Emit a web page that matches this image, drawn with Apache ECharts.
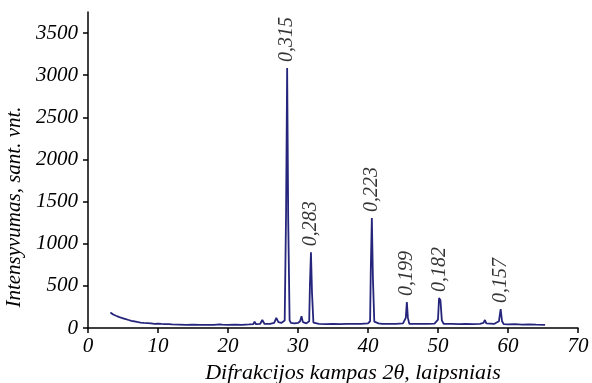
<!DOCTYPE html>
<html><head><meta charset="utf-8">
<script src="https://cdn.jsdelivr.net/npm/echarts@6/dist/echarts.min.js"></script>
<style>html,body{margin:0;padding:0;background:#fff}#c{width:592px;height:383px}</style>
</head><body><div id="c"></div>
<script>
// diffraction angle 2θ (degrees)
const angles = [3.2,3.4,3.6,3.8,4.0,4.3,4.6,5.0,5.4,5.8,6.2,6.6,7.0,7.5,8.0,8.5,9.0,9.5,10,10.5,11,11.5,12,13,14,15,16,17,18,18.8,19.0,19.2,20,21,22,23,23.6,23.8,24.0,24.6,24.9,25.2,26,26.6,26.9,27.2,27.6,28.1,28.3,28.45,28.6,28.8,29,29.5,30.0,30.3,30.5,30.7,31.2,31.6,31.7,31.85,32.0,32.2,33,34,35,36,37,38,39,40,40.3,40.4,40.55,40.7,40.9,41.5,42,43,44,45,45.4,45.55,45.7,45.9,46.5,47.5,48.5,49.5,50.0,50.15,50.25,50.35,50.55,50.8,52,53,54,55,56,56.5,56.7,56.9,57,58,58.7,58.95,59.15,59.4,60,61,62,63,64,65.3];
// intensity (a.u.)
const intensity = [185,170,160,150,145,135,125,115,105,95,85,80,72,65,60,58,55,50,52,48,45,47,42,40,38,40,36,38,37,42,55,40,38,40,38,42,45,75,45,50,95,50,48,60,120,70,60,90,1400,3085,1300,90,60,55,60,80,140,70,55,80,500,900,420,65,50,45,48,45,50,48,50,55,80,700,1305,600,75,55,50,48,50,55,120,308,120,50,48,50,48,52,100,356,340,330,90,50,48,45,48,45,50,60,95,55,45,48,80,225,80,45,42,45,40,42,40,38];
// peak labels (interplanar spacing, nm)
const peakAngles = [28.45,31.85,40.55,45.55,50.25,58.95];
const peakValues = [3085,900,1305,308,356,225];
const peakLabels = ['0,315','0,283','0,223','0,199','0,182','0,157'];
const xTicks = [0,10,20,30,40,50,60,70];
const yTicks = [0,500,1000,1500,2000,2500,3000,3500];

const font = '"Liberation Serif","Times New Roman",serif';
const chart = echarts.init(document.getElementById('c'), null, {renderer:'canvas'});
chart.setOption({
  animation:false,
  grid:{left:88,right:14,top:12,bottom:55,containLabel:false,outerBoundsMode:'none'},
  xAxis:{type:'value',min:xTicks[0],max:xTicks[xTicks.length-1],interval:10,
    name:'Difrakcijos kampas 2θ, laipsniais',nameLocation:'middle',nameGap:30,
    nameTextStyle:{fontFamily:font,fontStyle:'italic',fontSize:22,color:'#000',padding:[0,0,0,40]},
    axisLine:{lineStyle:{color:'#000',width:1.5}},
    axisTick:{show:true,inside:false,length:5,lineStyle:{color:'#000',width:1.5}},
    axisLabel:{fontFamily:font,fontStyle:'italic',fontSize:21,color:'#000',margin:8},
    splitLine:{show:false}},
  yAxis:{type:'value',min:yTicks[0],max:3750,interval:500,
    name:'Intensyvumas, sant. vnt.',nameLocation:'middle',nameGap:62,nameRotate:90,
    nameTextStyle:{fontFamily:font,fontStyle:'italic',fontSize:21,color:'#000',padding:[0,74,0,0]},
    axisLine:{show:true,lineStyle:{color:'#000',width:1.5}},
    axisTick:{show:true,inside:false,length:5,lineStyle:{color:'#000',width:1.5}},
    axisLabel:{fontFamily:font,fontStyle:'italic',fontSize:21,color:'#000',margin:10,showMaxLabel:false,
      formatter:v=> yTicks.indexOf(v)>=0? String(v):''},
    splitLine:{show:false}},
  series:[
    {type:'line',data:angles.map((a,i)=>[a,intensity[i]]),symbol:'none',
      lineStyle:{color:'#25257c',width:1.8},z:3},
    {type:'scatter',data:peakAngles.map((a,i)=>[a,peakValues[i]]),symbolSize:0,
      label:{show:true,position:'top',rotate:90,align:'left',verticalAlign:'middle',distance:6,
        fontFamily:font,fontStyle:'italic',fontSize:20,color:'#000',
        formatter:p=>peakLabels[p.dataIndex]},z:4}
  ]
});
</script></body></html>
